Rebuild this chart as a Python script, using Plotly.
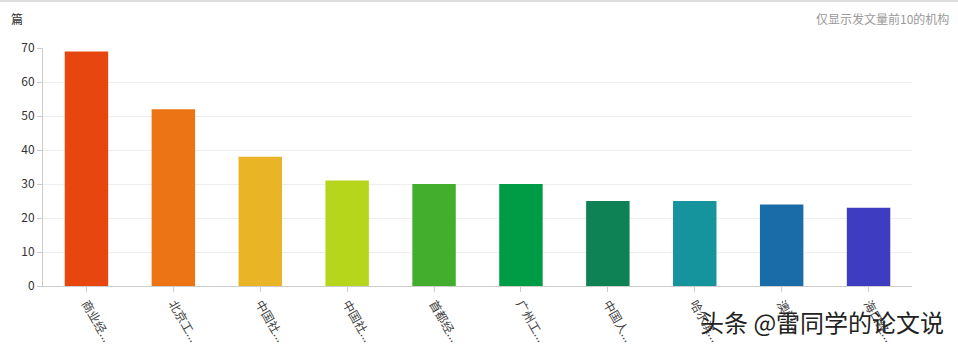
import plotly.graph_objects as go

categories = ["商业经...", "北京工...", "中国社...", "中国社... ", "首都经...",
              "广州工...", "中国人...", "哈尔滨...", "澳门...", "海口经..."]
values = [69, 52, 38, 31, 30, 30, 25, 25, 24, 23]
colors = ["#e8460f", "#ed7414", "#e9b526", "#b6d61b", "#43ae2e",
          "#009b45", "#0e8255", "#16949d", "#1a6ca9", "#3e3cc0"]
y_ticks = [0, 10, 20, 30, 40, 50, 60, 70]

font_family = "Noto Sans CJK SC, Noto Sans, sans-serif"

fig = go.Figure(go.Bar(
    x=list(range(len(categories))), y=values,
    marker=dict(color=colors, line=dict(width=0)),
    width=0.5,
))

fig.update_layout(
    width=958, height=348,
    margin=dict(l=43, r=46, t=48, b=62, autoexpand=False),
    paper_bgcolor="white", plot_bgcolor="white",
    font=dict(family=font_family, size=12, color="#333"),
    showlegend=False,
    xaxis=dict(
        tickmode="array", tickvals=list(range(len(categories))), ticktext=categories,
        range=[-0.5, len(categories) - 0.5], automargin=False,
        tickangle=60, showgrid=False, showline=True, linecolor="#cccccc", linewidth=1,
        ticks="outside", ticklen=5, tickcolor="#cccccc", tickson="boundaries",
        tickfont=dict(size=12, color="#444"), zeroline=False,
    ),
    yaxis=dict(
        range=[0, 70], tickvals=y_ticks, showgrid=True, gridcolor="#eeeeee",
        showline=True, linecolor="#cccccc", linewidth=1, automargin=False,
        ticks="outside", ticklen=5, tickcolor="#cccccc",
        tickfont=dict(size=12, color="#333"), zeroline=False,
    ),
    shapes=[dict(type="line", xref="paper", yref="paper", x0=-0.06, x1=1.06,
                 y0=1.197, y1=1.197, line=dict(color="#dddddd", width=2))],
    annotations=[
        dict(text="篇", xref="paper", yref="paper", x=-0.039, y=1.122,
             xanchor="left", yanchor="middle", showarrow=False,
             font=dict(size=12, color="#333")),
        dict(text="仅显示发文量前10的机构", xref="paper", yref="paper", x=1.045, y=1.122,
             xanchor="right", yanchor="middle", showarrow=False,
             font=dict(size=12, color="#999999")),
        dict(text="头条 @雷同学的论文说", xref="paper", yref="paper", x=1.039, y=-0.15,
             xanchor="right", yanchor="middle", showarrow=False,
             font=dict(size=24, color="#222222")),
    ],
)

fig.write_html("out.html")
